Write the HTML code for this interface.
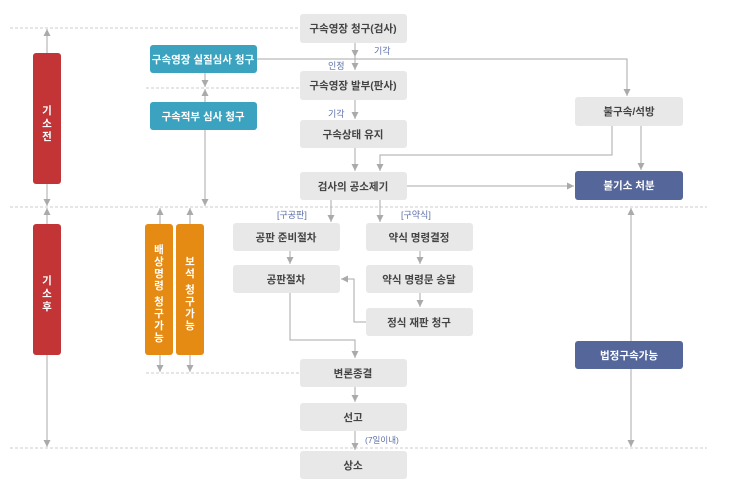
<!DOCTYPE html>
<html><head><meta charset="utf-8"><style>
html,body{margin:0;padding:0;background:#fff;width:737px;height:483px;overflow:hidden}
text{font-family:"Liberation Sans","Noto Sans CJK KR",sans-serif;font-size:10.5px;font-weight:bold}
</style></head><body>
<svg width="737" height="483" viewBox="0 0 737 483" xmlns="http://www.w3.org/2000/svg">
<defs>
<marker id="a" markerWidth="8" markerHeight="8" refX="7" refY="4" orient="auto" markerUnits="userSpaceOnUse">
<path d="M0,0.5 L7,4 L0,7.5 Z" fill="#aaa"/></marker>
</defs>
<g stroke="#ccc" stroke-dasharray="3,2" stroke-width="1">
<line x1="10" y1="28" x2="300" y2="28"/>
<line x1="146" y1="88" x2="300" y2="88"/>
<line x1="10" y1="207" x2="707" y2="207"/>
<line x1="146" y1="373" x2="300" y2="373"/>
<line x1="10" y1="448" x2="707" y2="448"/>
</g>
<g stroke="#aaa" stroke-width="1" fill="none" marker-end="url(#a)">
<line x1="47" y1="53" x2="47" y2="29"/>
<line x1="47" y1="184" x2="47" y2="206"/>
<line x1="47" y1="224" x2="47" y2="208"/>
<line x1="47" y1="355" x2="47" y2="447"/>
<line x1="205" y1="73" x2="205" y2="87"/>
<line x1="205" y1="102" x2="205" y2="89"/>
<line x1="205" y1="130" x2="205" y2="206"/>
<line x1="160" y1="224" x2="160" y2="208"/>
<line x1="190" y1="224" x2="190" y2="208"/>
<line x1="160" y1="355" x2="160" y2="372"/>
<line x1="190" y1="355" x2="190" y2="372"/>
<line x1="355" y1="43" x2="355" y2="57"/>
<line x1="355" y1="57" x2="355" y2="70"/>
<line x1="355" y1="100" x2="355" y2="119"/>
<line x1="355" y1="148" x2="355" y2="171"/>
<polyline points="257,59 627,59 627,96"/>
<polyline points="612,126 612,155 380,155 380,171"/>
<line x1="641" y1="126" x2="641" y2="170"/>
<line x1="407" y1="186" x2="574" y2="186"/>
<line x1="331" y1="200" x2="331" y2="222"/>
<line x1="380" y1="200" x2="380" y2="222"/>
<line x1="290" y1="251" x2="290" y2="264"/>
<line x1="420" y1="251" x2="420" y2="264"/>
<line x1="420" y1="293" x2="420" y2="307"/>
<polyline points="366,322 354,322 354,279 341,279"/>
<polyline points="290,293 290,340 355,340 355,358"/>
<line x1="355" y1="387" x2="355" y2="402"/>
<line x1="355" y1="431" x2="355" y2="450"/>
<line x1="631" y1="341" x2="631" y2="208"/>
<line x1="631" y1="369" x2="631" y2="447"/>
</g>
<g fill="#e8e8e8">
<rect x="300" y="14" width="107" height="29" rx="3"/>
<rect x="300" y="71" width="107" height="29" rx="3"/>
<rect x="300" y="120" width="107" height="28" rx="3"/>
<rect x="300" y="172" width="107" height="28" rx="3"/>
<rect x="575" y="97" width="108" height="29" rx="3"/>
<rect x="233" y="223" width="107" height="28" rx="3"/>
<rect x="366" y="223" width="107" height="28" rx="3"/>
<rect x="233" y="265" width="107" height="28" rx="3"/>
<rect x="366" y="265" width="107" height="28" rx="3"/>
<rect x="366" y="308" width="107" height="28" rx="3"/>
<rect x="300" y="359" width="107" height="28" rx="3"/>
<rect x="300" y="403" width="107" height="28" rx="3"/>
<rect x="300" y="451" width="107" height="28" rx="3"/>
</g>
<rect x="575" y="171" width="108" height="29" rx="3" fill="#54669a"/>
<rect x="575" y="341" width="108" height="28" rx="3" fill="#54669a"/>
<rect x="150" y="45" width="107" height="28" rx="3" fill="#3ba3bf"/>
<rect x="150" y="102" width="107" height="28" rx="3" fill="#3ba3bf"/>
<rect x="33" y="53" width="28" height="131" rx="3" fill="#c33437"/>
<rect x="33" y="224" width="28" height="131" rx="3" fill="#c33437"/>
<rect x="145" y="224" width="28" height="131" rx="3" fill="#e58a12"/>
<rect x="176" y="224" width="28" height="131" rx="3" fill="#e58a12"/>
<g fill="#444" text-anchor="middle">
<text x="353" y="32">구속영장 청구(검사)</text>
<text x="353" y="89">구속영장 발부(판사)</text>
<text x="353" y="138">구속상태 유지</text>
<text x="353" y="190">검사의 공소제기</text>
<text x="629" y="115">불구속/석방</text>
<text x="286" y="241">공판 준비절차</text>
<text x="419" y="241">약식 명령결정</text>
<text x="286" y="283">공판절차</text>
<text x="419" y="283">약식 명령문 송달</text>
<text x="419" y="326">정식 재판 청구</text>
<text x="353" y="377">변론종결</text>
<text x="353" y="421">선고</text>
<text x="353" y="469">상소</text>
</g>
<g fill="#fff" text-anchor="middle">
<text x="629" y="189">불기소 처분</text>
<text x="629" y="359">법정구속가능</text>
<text x="203" y="63">구속영장 실질심사 청구</text>
<text x="203" y="120">구속적부 심사 청구</text>
<text x="47" y="114">기</text><text x="47" y="127">소</text><text x="47" y="140">전</text>
<text x="47" y="284">기</text><text x="47" y="297">소</text><text x="47" y="310">후</text>
<text x="159" y="253">배</text><text x="159" y="265">상</text><text x="159" y="277">명</text><text x="159" y="289">령</text>
<text x="159" y="305">청</text><text x="159" y="317">구</text><text x="159" y="329">가</text><text x="159" y="341">능</text>
<text x="190" y="265">보</text><text x="190" y="277">석</text>
<text x="190" y="293">청</text><text x="190" y="305">구</text><text x="190" y="317">가</text><text x="190" y="329">능</text>
</g>
<g fill="#5a6fa8" style="font-weight:normal">
<text x="374" y="54" style="font-weight:normal;font-size:9px">기각</text>
<text x="328" y="69" style="font-weight:normal;font-size:9px">인정</text>
<text x="328" y="117" style="font-weight:normal;font-size:9px">기각</text>
<text x="277" y="218" style="font-weight:normal;font-size:9px">[구공판]</text>
<text x="401" y="218" style="font-weight:normal;font-size:9px">[구약식]</text>
<text x="365" y="443" style="font-weight:normal;font-size:8.5px">(7일이내)</text>
</g>
</svg>
</body></html>
